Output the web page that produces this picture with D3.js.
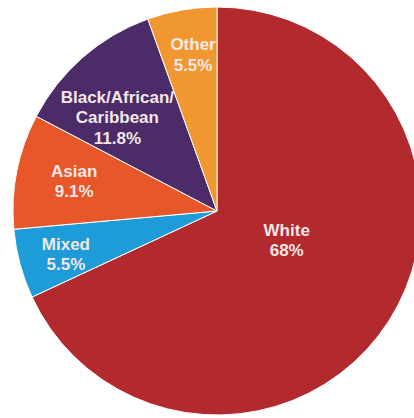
<!DOCTYPE html>
<html>
<head>
<meta charset="utf-8">
<script src="https://cdn.jsdelivr.net/npm/d3@7/dist/d3.min.js"></script>
<style>
  html, body { margin: 0; padding: 0; background: #fff; }
  svg { display: block; }
</style>
</head>
<body>
<script>
// Ethnic groups, listed clockwise from 12 o'clock
const categories = ["White", "Mixed", "Asian", "Black/African/Caribbean", "Other"];
const values = [68, 5.5, 9.1, 11.8, 5.5];
const valueLabels = ["68%", "5.5%", "9.1%", "11.8%", "5.5%"];
const nameLines = [["White"], ["Mixed"], ["Asian"], ["Black/African/", "Caribbean"], ["Other"]];
const colors = ["#B22A2D", "#1D9CD8", "#E8572A", "#4B2B68", "#F0982F"];

const W = 414, H = 418;
const cx = 217, cy = 211, R = 204;

const svg = d3.select("body").append("svg")
  .attr("width", W).attr("height", H);

const data = categories.map((c, i) => ({ name: c, value: values[i], i }));

const pie = d3.pie().sort(null).value(d => d.value);
const arcs = pie(data);
const arc = d3.arc().innerRadius(0).outerRadius(R);

const g = svg.append("g").attr("transform", `translate(${cx},${cy})`);

g.selectAll("path.slice")
  .data(arcs)
  .join("path")
  .attr("class", "slice")
  .attr("d", arc)
  .attr("fill", d => colors[d.data.i])
  .attr("stroke", "#ffffff")
  .attr("stroke-width", 1)
  .attr("stroke-linejoin", "round");

// Label placement: radius as a fraction of R, and a small angular shift (degrees) from the slice middle
const labelRadius = [0.37, 0.77, 0.715, 0.67, 0.775];
const labelShift = [-10, -0.8, 0.5, -5.7, 1.2];
const lineH = 20.5;

g.selectAll("text.lbl")
  .data(arcs)
  .join("text")
  .attr("class", "lbl")
  .attr("text-anchor", "middle")
  .attr("font-family", "'Liberation Sans', Arial, sans-serif")
  .attr("font-weight", "bold")
  .attr("font-size", 17)
  .attr("fill", "#F3E7E7")
  .each(function (d) {
    const i = d.data.i;
    const mid = (d.startAngle + d.endAngle) / 2 + labelShift[i] * Math.PI / 180;
    const r = R * labelRadius[i];
    const x = r * Math.sin(mid);
    const y = -r * Math.cos(mid);
    const lines = nameLines[i].concat([valueLabels[i]]);
    const y0 = y - (lines.length - 1) * lineH / 2;
    const t = d3.select(this);
    lines.forEach((ln, k) => {
      t.append("tspan")
        .attr("x", x)
        .attr("y", y0 + k * lineH)
        .attr("dy", "0.35em")
        .text(ln);
    });
  });
</script>
</body>
</html>
